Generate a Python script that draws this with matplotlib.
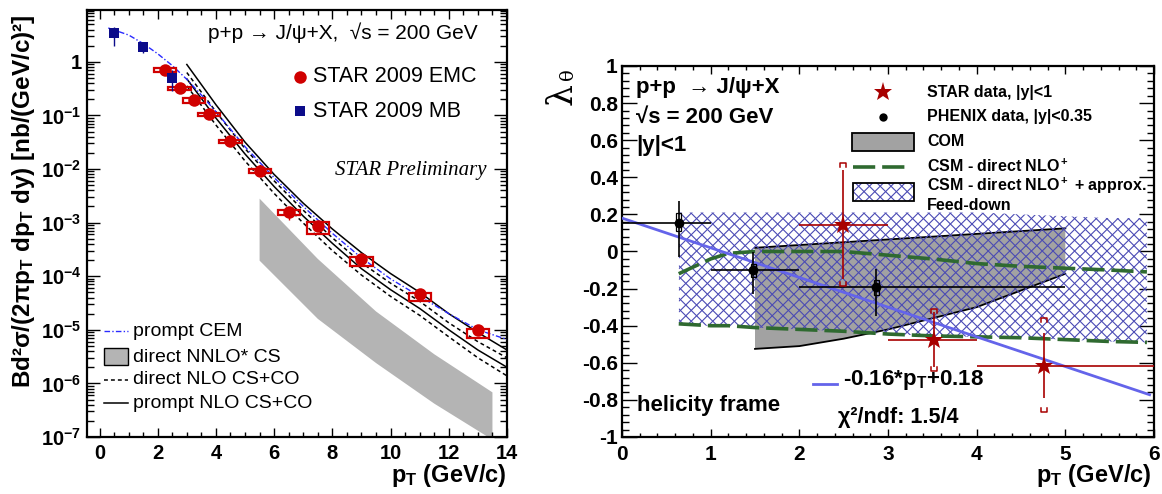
import numpy as np
import matplotlib
matplotlib.use('Agg')
import matplotlib.pyplot as plt
from matplotlib.patches import Rectangle, Polygon
from matplotlib.collections import LineCollection
from matplotlib.transforms import IdentityTransform
from matplotlib.ticker import MultipleLocator, LogLocator, FuncFormatter, NullFormatter

plt.rcParams['font.family'] = ['Liberation Sans', 'DejaVu Sans']
plt.rcParams['mathtext.fontset'] = 'custom'
plt.rcParams['mathtext.rm'] = 'Liberation Sans:bold'
plt.rcParams['mathtext.bf'] = 'Liberation Sans:bold'
plt.rcParams['mathtext.it'] = 'Liberation Sans:italic:bold'
plt.rcParams['mathtext.sf'] = 'Liberation Sans:bold'
plt.rcParams['lines.scale_dashes'] = False

# ---------------- Left panel data ----------------
emc_pt = [2.25, 2.75, 3.25, 3.75, 4.5, 5.5, 6.5, 7.5, 9.0, 11.0, 13.0]
emc_val = [0.70, 0.32, 0.19, 0.104, 0.033, 0.0092, 0.00155, 0.00087, 2.1e-4, 4.7e-5, 1.0e-5]
emc_stat_rel = [0.06, 0.07, 0.07, 0.08, 0.10, 0.12, 0.27, 0.15, 0.12, 0.12, 0.15]
emc_sys_hi_dex = [0.04, 0.03, 0.05, 0.03, 0.03, 0.03, 0.04, 0.07, 0.03, 0.02, 0.02]
emc_sys_lo_dex = [0.04, 0.04, 0.05, 0.03, 0.03, 0.03, 0.04, 0.16, 0.14, 0.14, 0.15]
emc_sys_halfwidth = 0.38

mb_pt = [0.5, 1.5, 2.5]
mb_val = [3.4, 1.9, 0.49]
mb_err_top = [4.5, 2.27, 0.70]
mb_err_bot = [1.96, 1.47, 0.29]

cem_pt = [0.3, 1.0, 1.5, 2.0, 2.5, 3.0, 3.5, 4.0, 5.0, 6.0, 7.0, 8.0, 9.0, 10.0, 11.0, 12.0, 13.0, 14.0]
cem_val = [4.27, 3.16, 2.19, 1.41, 0.85, 0.47, 0.24, 0.117, 0.026, 6.9e-3, 2.0e-3, 6.3e-4,
           2.2e-4, 8.9e-5, 4.2e-5, 2.0e-5, 1.0e-5, 6.6e-6]

nlo_pt = [3, 4, 5, 6, 7, 8, 9, 10, 11, 12, 13, 14]
prompt_nlo_hi = [0.89, 0.158, 0.0316, 7.9e-3, 2.3e-3, 7.6e-4, 2.75e-4, 1.12e-4, 5.0e-5, 2.0e-5, 8.9e-6, 4.2e-6]
prompt_nlo_lo = [0.48, 0.089, 0.019, 4.7e-3, 1.32e-3, 4.1e-4, 1.38e-4, 5.6e-5, 2.5e-5, 1.0e-5, 4.2e-6, 2.0e-6]
direct_nlo_hi = [0.63, 0.117, 0.024, 6.0e-3, 1.7e-3, 5.2e-4, 1.78e-4, 7.4e-5, 3.4e-5, 1.35e-5, 6.0e-6, 3.0e-6]
direct_nlo_lo = [0.355, 0.066, 0.0141, 3.5e-3, 9.8e-4, 3.0e-4, 1.05e-4, 4.2e-5, 1.86e-5, 7.4e-6, 3.0e-6, 1.38e-6]

nnlo_pt = [5.5, 7.5, 9.5, 11.5, 13.5]
nnlo_hi = [2.8e-3, 2.1e-4, 2.2e-5, 3.5e-6, 6.8e-7]
nnlo_lo = [1.95e-4, 1.6e-5, 2.4e-6, 4.2e-7, 8.9e-8]

left_yticks = [1e-7, 1e-6, 1e-5, 1e-4, 1e-3, 1e-2, 1e-1, 1]

# ---------------- Right panel data ----------------
phenix_pt = [0.64, 1.48, 2.87]
phenix_val = [0.153, -0.10, -0.19]
phenix_xlo = [0.0, 1.0, 2.0]
phenix_xhi = [1.0, 2.0, 5.0]
phenix_stat_top = [0.27, -0.005, -0.096]
phenix_stat_bot = [-0.03, -0.23, -0.35]
phenix_sys_top = [0.21, -0.07, -0.155]
phenix_sys_bot = [0.11, -0.14, -0.235]

star_pt = [2.49, 3.52, 4.76]
star_val = [0.142, -0.475, -0.615]
star_xlo = [2.0, 3.0, 4.0]
star_xhi = [3.0, 4.0, 6.0]
star_stat_top = [0.44, -0.325, -0.44]
star_stat_bot = [-0.15, -0.625, -0.79]
star_sys_top = [0.475, -0.31, -0.36]
star_sys_bot = [-0.185, -0.645, -0.865]

com_pt = [1.5, 2.0, 2.5, 3.0, 3.5, 4.0, 4.5, 5.0]
com_hi = [0.02, 0.035, 0.05, 0.065, 0.08, 0.095, 0.11, 0.125]
com_lo = [-0.525, -0.51, -0.47, -0.42, -0.36, -0.30, -0.21, -0.12]

csm_pt = [0.64, 1.0, 1.2, 1.5, 2.0, 2.5, 3.0, 3.5, 4.0, 4.5, 5.0, 5.5, 5.92]
csm_hi = [-0.12, -0.04, -0.01, 0.0, 0.0, 0.0, -0.02, -0.04, -0.065, -0.08, -0.09, -0.10, -0.11]
csm_lo = [-0.39, -0.40, -0.40, -0.41, -0.42, -0.43, -0.445, -0.455, -0.46, -0.465, -0.475, -0.485, -0.49]
feed_hi = [0.21, 0.21, 0.21, 0.21, 0.21, 0.21, 0.21, 0.21, 0.21, 0.20, 0.19, 0.18, 0.18]
feed_lo = [-0.40, -0.40, -0.405, -0.41, -0.42, -0.43, -0.445, -0.455, -0.46, -0.465, -0.475, -0.485, -0.49]

fit_pt = [0.0, 5.95]
fit_val = [0.18, -0.772]

# ---------------- Figure ----------------
W, H = 1162, 494
fig = plt.figure(figsize=(W / 100, H / 100), dpi=100)

LX0, LX1, LY0, LY1 = 87, 507, 10, 437
RX0, RX1, RY0, RY1 = 622, 1154, 66, 437
axL = fig.add_axes([LX0 / W, 1 - LY1 / H, (LX1 - LX0) / W, (LY1 - LY0) / H])
axR = fig.add_axes([RX0 / W, 1 - RY1 / H, (RX1 - RX0) / W, (RY1 - RY0) / H])


def Lp(px, py):
    return ((px - LX0) / (LX1 - LX0), (LY1 - py) / (LY1 - LY0))


def Rp(px, py):
    return ((px - RX0) / (RX1 - RX0), (RY1 - py) / (RY1 - RY0))


def hatch_region(ax, xs, ys, transform, color, spacing, lw, zorder):
    verts = np.column_stack([xs, ys])
    clip = Polygon(verts, closed=True, transform=transform, facecolor='none',
                   edgecolor='none')
    ax.add_patch(clip)
    disp = transform.transform(verts)
    x0, y0 = disp.min(axis=0)
    x1, y1 = disp.max(axis=0)
    segs = []
    for c in np.arange(np.floor((y0 - x1) / spacing) * spacing, (y1 - x0) + spacing, spacing):
        segs.append([(x0, x0 + c), (x1, x1 + c)])
    for c in np.arange(np.floor((y0 + x0) / spacing) * spacing, (y1 + x1) + spacing, spacing):
        segs.append([(x0, c - x0), (x1, c - x1)])
    lc = LineCollection(segs, colors=color, linewidths=lw, transform=IdentityTransform(),
                        zorder=zorder)
    lc.set_clip_path(clip)
    ax.add_collection(lc, autolim=False)


# ================= LEFT PANEL =================
axL.set_yscale('log')
axL.set_xlim(-0.43, 14.0)
axL.set_ylim(1e-7, 9.25)

axL.fill_between(nnlo_pt, nnlo_lo, nnlo_hi, facecolor='#b4b4b4', edgecolor='none', zorder=1)
axL.plot(nlo_pt, prompt_nlo_hi, color='black', lw=1.1, zorder=2)
axL.plot(nlo_pt, prompt_nlo_lo, color='black', lw=1.1, zorder=2)
axL.plot(nlo_pt, direct_nlo_hi, color='black', lw=1.1, dashes=(2.8, 2.2), zorder=2)
axL.plot(nlo_pt, direct_nlo_lo, color='black', lw=1.1, dashes=(2.8, 2.2), zorder=2)
axL.plot(cem_pt, cem_val, color='#2a2aff', lw=1.0, dashes=(4, 1.6, 1, 1.6), zorder=3)

red = '#d00000'
for x, y, hi, lo in zip(emc_pt, emc_val, emc_sys_hi_dex, emc_sys_lo_dex):
    ytop = y * 10 ** hi
    ybot = y * 10 ** (-lo)
    axL.add_patch(Rectangle((x - emc_sys_halfwidth, ybot), 2 * emc_sys_halfwidth, ytop - ybot,
                            facecolor='none', edgecolor=red, lw=1.6, zorder=4))
emc_err = [np.array(emc_val) * np.array(emc_stat_rel), np.array(emc_val) * np.array(emc_stat_rel)]
axL.errorbar(emc_pt, emc_val, yerr=emc_err, fmt='o', color=red, ms=9, mew=0,
             elinewidth=1.0, capsize=2.5, zorder=5)
mb_err = [np.array(mb_val) - np.array(mb_err_bot), np.array(mb_err_top) - np.array(mb_val)]
axL.errorbar(mb_pt, mb_val, yerr=mb_err, fmt='s', color='#0c0c8a', ms=7, mew=0,
             elinewidth=1.0, capsize=2.5, zorder=5)

# ticks
axL.xaxis.set_major_locator(MultipleLocator(2))
axL.xaxis.set_minor_locator(MultipleLocator(0.5))
axL.yaxis.set_major_locator(LogLocator(base=10, numticks=20))
axL.yaxis.set_minor_locator(LogLocator(base=10, subs=np.arange(2, 10), numticks=20))
axL.yaxis.set_minor_formatter(NullFormatter())


def logfmt(v, pos):
    e = int(round(np.log10(v)))
    if e == 0:
        return '1'
    return r'$10^{%d}$' % e


axL.yaxis.set_major_formatter(FuncFormatter(logfmt))
axL.set_yticks(left_yticks)
axL.tick_params(which='both', direction='in', top=True, right=True, width=1.0)
axL.tick_params(axis='y', which='major', length=9.5, pad=4, labelsize=14.5)
axL.tick_params(axis='y', which='minor', length=5)
axL.tick_params(axis='x', which='major', length=6.5, pad=5, labelsize=14.5)
axL.tick_params(axis='x', which='minor', length=3.5)
for lab in axL.get_xticklabels():
    lab.set_fontweight('bold')
for s in axL.spines.values():
    s.set_linewidth(1.6)

# texts
axL.text(*Lp(478, 33), 'p+p → J/ψ+X,  √s = 200 GeV', transform=axL.transAxes,
         ha='right', va='center', fontsize=15)
axL.plot(*Lp(300, 77), 'o', color=red, ms=9, mew=0, transform=axL.transAxes, clip_on=False)
axL.text(*Lp(313, 77), 'STAR 2009 EMC', transform=axL.transAxes, ha='left', va='center',
         fontsize=15.5)
axL.plot(*Lp(300, 111), 's', color='#0c0c8a', ms=7, mew=0, transform=axL.transAxes)
axL.text(*Lp(313, 111), 'STAR 2009 MB', transform=axL.transAxes, ha='left', va='center',
         fontsize=15.5)
axL.text(*Lp(487, 170), 'STAR Preliminary', transform=axL.transAxes, ha='right', va='center',
         fontsize=15, family='Liberation Serif', style='italic')

# lower-left legend
lx0, lx1 = 104, 128
axL.plot([Lp(lx0, 331)[0], Lp(lx1, 331)[0]], [Lp(lx0, 331)[1]] * 2, color='#2a2aff', lw=1.0,
         dashes=(4, 1.6, 1, 1.6), transform=axL.transAxes)
bx0, by0 = Lp(lx0, 365)
bx1, by1 = Lp(lx1, 348)
axL.add_patch(Rectangle((bx0, by0), bx1 - bx0, by1 - by0, transform=axL.transAxes,
                        facecolor='#b4b4b4', edgecolor='black', lw=1.0))
axL.plot([Lp(lx0, 380)[0], Lp(lx1, 380)[0]], [Lp(lx0, 380)[1]] * 2, color='black', lw=1.1,
         dashes=(2.8, 2.2), transform=axL.transAxes)
axL.plot([Lp(lx0, 403)[0], Lp(lx1, 403)[0]], [Lp(lx0, 403)[1]] * 2, color='black', lw=1.1,
         transform=axL.transAxes)
for py, txt in [(331, 'prompt CEM'), (357, 'direct NNLO* CS'), (380, 'direct NLO CS+CO'),
                (403, 'prompt NLO CS+CO')]:
    axL.text(*Lp(133, py), txt, transform=axL.transAxes, ha='left', va='center', fontsize=14)

fig.text(507 / W, 1 - 482 / H, r'p$_{\rm T}$ (GeV/c)', ha='right', va='baseline',
         fontsize=17, fontweight='bold')
fig.text(24 / W, 1 - 14 / H, r'Bd²σ/(2πp$_{\rm T}$ dp$_{\rm T}$ dy) [nb/(GeV/c)²]',
         rotation=90, ha='center', va='top', fontsize=17.5, fontweight='bold')

# ================= RIGHT PANEL =================
axR.set_xlim(0, 6)
axR.set_ylim(-1, 1)

axR.fill_between(com_pt, com_lo, com_hi, facecolor='#a2a2a2', edgecolor='none', zorder=2)
axR.plot(com_pt, com_hi, color='black', lw=1.3, zorder=2.5)
axR.plot(com_pt, com_lo, color='black', lw=1.3, zorder=2.5)

hatch_col = '#4a4ab4'
hatch_region(axR, csm_pt + csm_pt[::-1], feed_hi + feed_lo[::-1], axR.transData,
             hatch_col, 10.8, 0.8, 3)

green = '#2f6a30'
axR.plot(csm_pt, csm_hi, color=green, lw=2.6, dashes=(16, 5), zorder=4)
axR.plot(csm_pt, csm_lo, color=green, lw=2.6, dashes=(16, 5), zorder=4)

axR.plot(fit_pt, fit_val, color='#6464ea', lw=2.0, zorder=5)

# PHENIX
for x, t, b in zip(phenix_pt, phenix_sys_top, phenix_sys_bot):
    axR.add_patch(Rectangle((x - 0.03, b), 0.06, t - b, facecolor='none', edgecolor='black',
                            lw=0.9, zorder=6))
ph_xerr = [np.array(phenix_pt) - np.array(phenix_xlo), np.array(phenix_xhi) - np.array(phenix_pt)]
ph_yerr = [np.array(phenix_val) - np.array(phenix_stat_bot),
           np.array(phenix_stat_top) - np.array(phenix_val)]
axR.errorbar(phenix_pt, phenix_val, xerr=ph_xerr, yerr=ph_yerr, fmt='o', color='black', ms=7,
             mew=0, elinewidth=1.2, capsize=2.5, capthick=1.2, zorder=7)

# STAR
star_col = '#a80000'
for x, t, b in zip(star_pt, star_sys_top, star_sys_bot):
    w, h = 0.035, 0.02
    axR.plot([x - w, x - w, x + w, x + w], [t - h, t, t, t - h], color=star_col, lw=1.1, zorder=7)
    axR.plot([x - w, x - w, x + w, x + w], [b + h, b, b, b + h], color=star_col, lw=1.1, zorder=7)
st_xerr = [np.array(star_pt) - np.array(star_xlo), np.array(star_xhi) - np.array(star_pt)]
st_yerr = [np.array(star_val) - np.array(star_stat_bot),
           np.array(star_stat_top) - np.array(star_val)]
axR.errorbar(star_pt, star_val, xerr=st_xerr, yerr=st_yerr, fmt='*', color=star_col, ms=14,
             mew=0, elinewidth=1.2, capsize=2.5, capthick=1.2, zorder=8)

axR.xaxis.set_major_locator(MultipleLocator(1))
axR.xaxis.set_minor_locator(MultipleLocator(0.2))
axR.yaxis.set_major_locator(MultipleLocator(0.2))
axR.yaxis.set_minor_locator(MultipleLocator(0.04))
axR.yaxis.set_major_formatter(FuncFormatter(lambda v, p: ('%g' % round(v, 2)) if abs(v) > 1e-9 else '0'))
axR.tick_params(which='both', direction='in', top=True, right=True, width=1.0, labelsize=15)
axR.tick_params(axis='y', which='major', length=11, pad=3)
axR.tick_params(axis='y', which='minor', length=5)
axR.tick_params(axis='x', which='major', length=6, pad=6)
axR.tick_params(axis='x', which='minor', length=3)
for lab in axR.get_xticklabels() + axR.get_yticklabels() + axL.get_yticklabels():
    lab.set_fontweight('bold')
for s in axR.spines.values():
    s.set_linewidth(1.6)

# texts
for py, txt in [(87, 'p+p  → J/ψ+X'), (117, '√s = 200 GeV'), (145, '|y|<1')]:
    axR.text(*Rp(636, py), txt, transform=axR.transAxes, ha='left', va='center', fontsize=16,
             fontweight='bold')

# legend
axR.plot(*Rp(883, 92), '*', color=star_col, ms=14, mew=0, transform=axR.transAxes)
axR.plot(*Rp(883, 117), 'o', color='black', ms=6, mew=0, transform=axR.transAxes)
cx0, cy0 = Rp(852, 151)
cx1, cy1 = Rp(914, 133)
axR.add_patch(Rectangle((cx0, cy0), cx1 - cx0, cy1 - cy0, transform=axR.transAxes,
                        facecolor='#a2a2a2', edgecolor='black', lw=1.3, zorder=9))
gx0, gy = Rp(853, 167)
gx1, _ = Rp(908, 167)
axR.plot([gx0, gx1], [gy, gy], color=green, lw=2.6, dashes=(16, 5), transform=axR.transAxes)
hx0, hy0 = Rp(853, 201)
hx1, hy1 = Rp(914, 183)
hatch_region(axR, [hx0, hx1, hx1, hx0], [hy0, hy0, hy1, hy1], axR.transAxes, hatch_col,
             10.8, 0.8, 9)
axR.add_patch(Rectangle((hx0, hy0), hx1 - hx0, hy1 - hy0, transform=axR.transAxes,
                        facecolor='none', edgecolor='black', lw=1.3, zorder=9))
for py, txt in [(92, 'STAR data, |y|<1'), (117, 'PHENIX data, |y|<0.35'), (141, 'COM'),
                (166, r'CSM - direct NLO$^+$'), (186, r'CSM - direct NLO$^+$ + approx.'),
                (206, 'Feed-down')]:
    axR.text(*Rp(927, py), txt, transform=axR.transAxes, ha='left', va='center', fontsize=11.5,
             fontweight='bold', zorder=10)

lx0, ly = Rp(813, 384)
lx1, _ = Rp(837, 384)
axR.plot([lx0, lx1], [ly, ly], color='#6464ea', lw=2.0, transform=axR.transAxes)
axR.text(*Rp(843, 380), r'-0.16*p$_{\rm T}$+0.18', transform=axR.transAxes, ha='left',
         va='center', fontsize=16, fontweight='bold')
axR.text(*Rp(838, 417), 'χ²/ndf: 1.5/4', transform=axR.transAxes, ha='left', va='center',
         fontsize=15.5, fontweight='bold')
axR.text(*Rp(637, 405), 'helicity frame', transform=axR.transAxes, ha='left', va='center',
         fontsize=16, fontweight='bold')

fig.text(1152 / W, 1 - 482 / H, r'p$_{\rm T}$ (GeV/c)', ha='right', va='baseline',
         fontsize=17, fontweight='bold')
fig.text(562 / W, 1 - 94 / H, 'λ', rotation=90, ha='center', va='center', fontsize=25,
         family='DejaVu Serif')
fig.text(568 / W, 1 - 74 / H, 'θ', rotation=90, ha='center', va='center', fontsize=14,
         family='DejaVu Serif')

fig.savefig('out.png', dpi=100)
